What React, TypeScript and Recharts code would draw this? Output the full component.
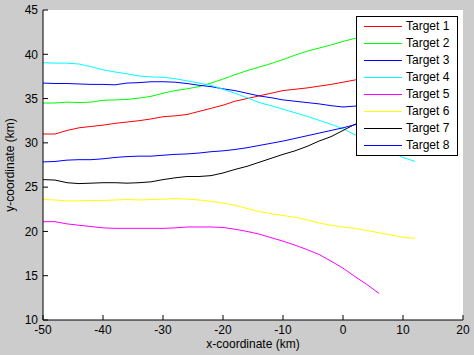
import { LineChart, Line, XAxis, YAxis, CartesianGrid, Legend, Label } from 'recharts';

/* ── Track data (km), sampled every 2 km along x ── */

const X_KM = [
  -50, -48, -46, -44, -42, -40, -38, -36, -34, -32, -30, -28, -26, -24, -22, -20,
  -18, -16, -14, -12, -10, -8, -6, -4, -2, 0, 2, 4, 6, 8, 10, 12,
];

const TARGET_1 = [
  31.0, 31.0, 31.4, 31.7, 31.85, 32.0, 32.2, 32.35, 32.5, 32.7, 32.95, 33.05, 33.2, 33.55,
  33.9, 34.25, 34.7, 35.0, 35.3, 35.6, 35.9, 36.05, 36.2, 36.4, 36.6, 36.85, 37.1, 37.3,
];
const TARGET_2 = [
  34.5, 34.5, 34.6, 34.55, 34.6, 34.8, 34.85, 34.9, 35.05, 35.25, 35.6, 35.9, 36.1, 36.35,
  36.75, 37.2, 37.7, 38.15, 38.55, 38.95, 39.4, 39.9, 40.35, 40.7, 41.05, 41.45, 41.8, 42.1,
];
const TARGET_3 = [
  36.75, 36.7, 36.7, 36.65, 36.6, 36.6, 36.55, 36.75, 36.8, 36.9, 36.9, 36.85, 36.7, 36.5,
  36.35, 36.1, 35.9, 35.6, 35.3, 35.1, 34.85, 34.7, 34.55, 34.4, 34.2, 34.05, 34.15, 34.2,
];
const TARGET_4 = [
  39.05, 39.0, 39.0, 38.9, 38.6, 38.25, 38.0, 37.8, 37.55, 37.45, 37.4, 37.25, 37.0, 36.75,
  36.5, 36.05, 35.6, 35.1, 34.55, 34.2, 33.8, 33.4, 33.0, 32.55, 32.1, 31.6, 30.9, 30.3,
  29.7, 29.0, 28.35, 27.9,
];
const TARGET_5 = [
  21.1, 21.1, 20.85, 20.7, 20.55, 20.4, 20.35, 20.35, 20.35, 20.35, 20.35, 20.4, 20.5, 20.5,
  20.5, 20.45, 20.25, 20.0, 19.7, 19.3, 18.9, 18.45, 17.95, 17.4, 16.65, 15.85, 14.9, 14.0,
  13.0,
];
const TARGET_6 = [
  23.6, 23.55, 23.45, 23.45, 23.5, 23.5, 23.55, 23.6, 23.55, 23.6, 23.65, 23.7, 23.65, 23.55,
  23.4, 23.2, 22.95, 22.6, 22.25, 22.0, 21.8, 21.6, 21.3, 20.95, 20.7, 20.5, 20.35, 20.1,
  19.85, 19.6, 19.35, 19.2,
];
const TARGET_7 = [
  25.85, 25.8, 25.5, 25.4, 25.45, 25.5, 25.5, 25.45, 25.5, 25.6, 25.85, 26.05, 26.2, 26.2,
  26.3, 26.6, 27.0, 27.35, 27.8, 28.25, 28.7, 29.1, 29.6, 30.2, 30.7, 31.4, 32.1, 32.5,
];
const TARGET_8 = [
  27.85, 27.9, 28.05, 28.1, 28.1, 28.2, 28.35, 28.45, 28.5, 28.5, 28.6, 28.7, 28.75, 28.85,
  29.0, 29.1, 29.25, 29.45, 29.7, 29.95, 30.2, 30.5, 30.8, 31.1, 31.4, 31.7, 32.05, 32.3,
];

const TARGET_NAMES = ['Target 1', 'Target 2', 'Target 3', 'Target 4', 'Target 5', 'Target 6', 'Target 7', 'Target 8'];
const TARGETS = [TARGET_1, TARGET_2, TARGET_3, TARGET_4, TARGET_5, TARGET_6, TARGET_7, TARGET_8];
const COLORS = ['#ff0000', '#00ff00', '#0000ff', '#00ffff', '#ff00ff', '#ffff00', '#000000', '#0000ff'];

const X_TICKS = [-50, -40, -30, -20, -10, 0, 10, 20];
const Y_TICKS = [10, 15, 20, 25, 30, 35, 40, 45];

const FONT = '"Liberation Sans", Arial, sans-serif';

const chartData = X_KM.map((x, i) => {
  const row: Record<string, number | null> = { x };
  TARGETS.forEach((vals, s) => {
    row[`t${s + 1}`] = vals[i] ?? null;
  });
  return row;
});

/* ── MATLAB-style boxed legend ── */

function BoxLegend() {
  return (
    <div
      style={{
        boxSizing: 'border-box',
        width: 102,
        height: 140,
        paddingTop: 1,
        background: '#fff',
        border: '1px solid #000',
        fontFamily: FONT,
        fontSize: 12,
        color: '#000',
      }}
    >
      {TARGET_NAMES.map((name, s) => (
        <div key={name} style={{ display: 'flex', alignItems: 'center', height: 17 }}>
          <div style={{ flex: '0 0 38px', marginLeft: 7, height: 1, background: COLORS[s] }} />
          <span style={{ marginLeft: 4, whiteSpace: 'nowrap', lineHeight: '17px' }}>{name}</span>
        </div>
      ))}
    </div>
  );
}

export default function App() {
  return (
    <div style={{ position: 'absolute', left: 0, top: 0, width: 474, height: 355, background: '#cccccc' }}>
      <LineChart width={474} height={355} data={chartData} margin={{ top: 10, right: 11, bottom: 0, left: 0 }}>
        <CartesianGrid horizontal={false} vertical={false} fill="#ffffff" fillOpacity={1} />
        <XAxis
          dataKey="x"
          type="number"
          domain={[-50, 20]}
          ticks={X_TICKS}
          height={35}
          tickSize={-5}
          tickMargin={10}
          axisLine={{ stroke: '#000' }}
          tickLine={{ stroke: '#000' }}
          tick={{ fill: '#000', fontSize: 12, fontFamily: FONT }}
        >
          <Label
            value="x-coordinate (km)"
            position="insideBottom"
            offset={7}
            style={{ fill: '#000', fontSize: 12, fontFamily: FONT }}
          />
        </XAxis>
        <YAxis
          type="number"
          domain={[10, 45]}
          ticks={Y_TICKS}
          width={43}
          tickSize={-5}
          tickMargin={10}
          axisLine={{ stroke: '#000' }}
          tickLine={{ stroke: '#000' }}
          tick={{ fill: '#000', fontSize: 12, fontFamily: FONT }}
        >
          <Label
            value="y-coordinate (km)"
            angle={-90}
            position="insideLeft"
            offset={10}
            style={{ fill: '#000', fontSize: 12, fontFamily: FONT, textAnchor: 'middle' }}
          />
        </YAxis>
        <Legend
          layout="vertical"
          align="center"
          verticalAlign="middle"
          content={<BoxLegend />}
          wrapperStyle={{ left: 356, top: 16, width: 102, height: 140 }}
        />
        {TARGET_NAMES.map((name, s) => (
          <Line
            key={name}
            type="linear"
            dataKey={`t${s + 1}`}
            name={name}
            stroke={COLORS[s]}
            strokeWidth={1}
            dot={false}
            activeDot={false}
            isAnimationActive={false}
          />
        ))}
      </LineChart>
    </div>
  );
}
